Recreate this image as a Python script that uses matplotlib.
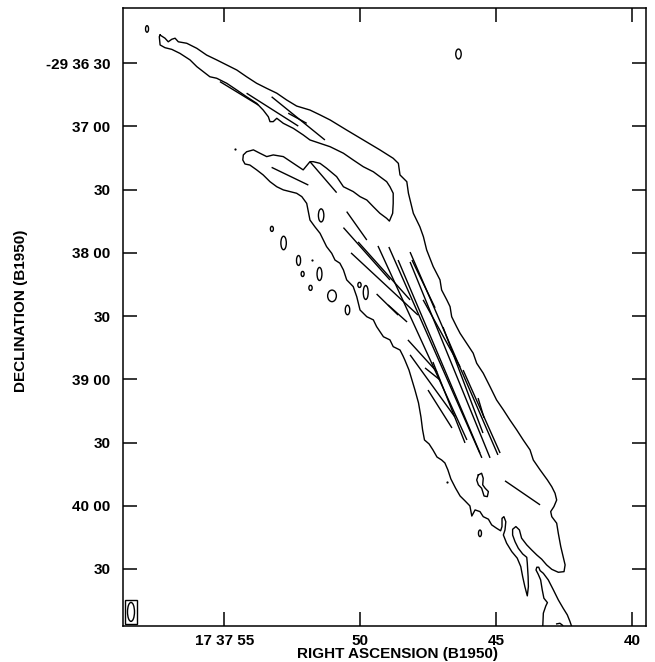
import matplotlib
matplotlib.use('Agg')
import matplotlib.pyplot as plt
from matplotlib.patches import Ellipse, Rectangle

plt.rcParams['font.family'] = ['Liberation Sans', 'DejaVu Sans']

# ---- data: RA in seconds of 17h37m (B1950), Dec in arcsec south of -29d36m00s ----
main_ra = [57.36, 57.18, 57.06, 56.93, 56.81, 56.69, 56.38, 56.01, 55.65, 55.28, 54.91, 54.54, 54.18,
           53.81, 53.44, 53.07, 52.71, 52.34, 51.85, 51.48, 51.11, 50.50, 49.89, 49.28, 48.79, 48.60,
           48.54, 48.29, 48.23, 48.05, 47.81, 47.68, 47.56, 47.32, 47.07, 47.01, 46.82, 46.70, 46.64,
           46.46, 46.33, 46.09, 45.85, 45.72, 45.48, 45.23, 44.99, 44.74, 44.50, 44.25, 44.01, 43.76,
           43.64, 43.39, 43.12, 42.96, 42.84, 42.78, 42.88, 43.00, 42.96, 42.78, 42.72, 42.63, 42.54,
           42.47, 42.51,
           42.72, 42.96, 43.15, 43.33, 43.51, 43.70, 43.88, 44.07, 44.15, 44.28, 44.40, 44.40, 44.31,
           44.19, 44.03, 43.88, 43.86, 43.83, 43.82, 43.86, 43.95, 44.03, 44.10, 44.23, 44.43, 44.62,
           44.74, 44.68, 44.65, 44.72, 44.79, 44.79, 44.84, 44.99, 45.17, 45.29, 45.48, 45.60, 45.78,
           45.90, 45.97, 46.15, 46.33, 46.50, 46.67, 46.78, 46.89, 47.01, 47.18, 47.33, 47.47, 47.64,
           47.71, 47.77, 47.86, 47.99, 48.10, 48.21, 48.36, 48.43, 48.54, 48.79, 48.91, 49.15, 49.40,
           49.52, 49.76, 50.01, 50.13, 50.26, 50.50, 50.62, 50.75, 50.93, 51.05, 51.24, 51.36, 51.48,
           51.67, 51.85, 51.97, 52.15, 52.34, 52.58, 52.83, 53.07, 53.32, 53.57, 53.81, 54.06, 54.24,
           54.32, 54.30, 54.18, 53.93, 53.69, 53.44, 53.20, 52.83, 52.46, 52.10, 51.85, 51.73, 51.48,
           51.24, 50.87, 50.62, 50.26, 50.01, 49.76, 49.52, 49.28, 49.03, 48.93, 48.81, 48.79, 48.79,
           48.91, 49.03, 49.28, 49.52, 49.89, 50.26, 50.62, 51.11, 51.48, 51.85, 52.10, 52.46, 52.83,
           53.07, 53.20, 53.32, 53.38, 53.57, 53.81, 54.18, 54.54, 54.91, 55.28, 55.53, 55.77, 56.01,
           56.26, 56.63, 56.93, 57.18, 57.36, 57.39, 57.36]
main_dec = [16.6, 18.1, 19.8, 18.6, 18.1, 19.8, 20.5, 22.9, 26.1, 28.4, 30.8, 33.2, 36.4,
            39.5, 41.9, 44.2, 47.4, 50.3, 52.2, 54.5, 56.9, 61.7, 66.4, 71.1, 75.1, 77.5,
            83.0, 86.2, 91.7, 101.2, 107.6, 112.3, 118.6, 126.5, 132.8, 137.6, 142.3, 145.5, 150.3,
            155.0, 158.2, 162.9, 167.6, 172.4, 177.1, 183.5, 189.8, 194.5, 199.3, 204.0, 208.8, 213.5,
            218.3, 223.0, 227.8, 231.0, 234.1, 237.3, 240.4, 242.8, 245.2, 248.3, 253.1, 259.4, 264.2,
            268.1, 271.3,
            271.6, 270.2, 268.1, 265.4, 263.4, 261.0, 258.6, 255.4, 251.5, 249.9, 251.2, 253.9, 257.1,
            260.2, 262.9, 264.5, 267.3, 273.7, 278.4, 282.8, 278.4, 273.7, 268.9, 264.9, 261.8, 257.8,
            253.9, 251.5, 247.6, 245.2, 246.0, 249.9, 251.9, 250.7, 249.1, 246.4, 245.2, 242.8, 242.0,
            244.9, 240.1, 237.7, 235.4, 231.6, 227.3, 223.0, 219.7, 218.3, 216.9, 213.5, 210.7, 208.8,
            204.0, 197.9, 191.2, 185.1, 180.3, 175.6, 170.9, 168.9, 166.1, 164.5, 161.3, 159.8, 155.0,
            151.8, 150.3, 147.1, 140.8, 136.0, 132.8, 128.1, 124.9, 123.4, 120.2, 117.0, 113.9, 110.7,
            107.6, 104.4, 96.5, 93.3, 91.7, 90.9, 90.1, 88.6, 86.2, 83.0, 80.6, 78.3, 77.8,
            75.9, 73.5, 72.0, 71.1, 72.7, 74.3, 73.5, 74.3, 77.5, 80.6, 76.7, 76.7, 77.5,
            79.8, 83.8, 88.6, 90.9, 93.3, 94.9, 98.1, 101.2, 103.6, 104.9, 101.2, 96.5, 91.7,
            88.6, 86.2, 83.8, 81.5, 79.1, 75.9, 72.7, 69.6, 68.0, 66.4, 64.0, 60.9, 58.5,
            56.1, 57.7, 57.7, 55.4, 52.2, 49.0, 45.9, 42.7, 39.5, 37.1, 36.4, 34.0, 31.6,
            28.4, 25.3, 23.4, 22.6, 21.3, 17.4, 16.6]

tail_ra = [43.29, 43.27, 43.18, 43.12, 43.25, 43.31, 43.37, 43.46, 43.54, 43.51, 43.44, 43.39,
           43.27, 43.09, 42.90, 42.72, 42.54, 42.39, 42.29, 42.24]
tail_dec = [296.9, 291.0, 287.6, 286.0, 283.9, 280.0, 275.2, 272.5, 270.5, 269.2, 269.2, 270.8,
            272.1, 275.2, 280.0, 284.7, 288.7, 291.8, 295.0, 296.9]
edge_ra = [42.78, 42.66, 42.56]
edge_dec = [296.1, 295.8, 296.8]

loop_ra = [45.66, 45.54, 45.48, 45.50, 45.41, 45.29, 45.33, 45.45, 45.50, 45.54, 45.66, 45.72, 45.66]
loop_dec = [225.4, 224.6, 227.0, 230.1, 231.7, 233.3, 235.7, 235.4, 233.3, 231.7, 230.1, 227.8, 225.4]

blob_ra = [57.84, 46.39, 51.44, 53.25, 52.82, 52.27, 52.12, 51.50, 51.83, 51.04, 50.47, 50.03, 49.80, 45.60]
blob_dec = [13.7, 25.6, 102.2, 108.6, 115.3, 123.6, 130.0, 130.0, 136.6, 140.4, 147.1, 135.2, 138.8, 253.1]
blob_w = [0.11, 0.20, 0.20, 0.11, 0.20, 0.15, 0.11, 0.18, 0.12, 0.32, 0.165, 0.12, 0.18, 0.11]
blob_h = [3.1, 4.7, 6.2, 2.4, 6.4, 4.7, 2.4, 6.2, 2.4, 5.5, 4.5, 2.4, 6.6, 3.1]

dot_ra = [54.62, 51.78, 46.80]
dot_dec = [70.7, 123.6, 228.6]

# polarization vectors (start / end)
vec_ra0 = [55.16, 54.18, 53.26, 52.65, 53.26, 51.85, 44.68, 50.50, 50.62, 50.08, 50.34, 49.35, 48.95,
           48.61, 48.17, 48.10, 47.69, 46.96, 46.22, 45.67, 48.25, 48.17, 47.62, 47.51, 49.40, 48.98, 47.33,
           48.17]
vec_dec0 = [38.7, 44.2, 45.9, 53.7, 79.4, 76.7, 228.2, 100.4, 108.0, 114.8, 120.0, 116.7, 117.2,
            123.4, 119.6, 123.4, 142.3, 155.2, 175.6, 188.9, 161.3, 168.4, 174.6, 185.1, 139.5, 144.7, 171.8,
            124.3]
vec_ra1 = [53.75, 52.28, 51.30, 51.97, 51.91, 50.87, 43.39, 49.76, 48.91, 48.17, 47.88, 46.08, 45.53,
           45.60, 44.94, 47.25, 46.33, 45.49, 44.86, 45.45, 47.18, 46.52, 47.07, 46.63, 48.61, 48.28, 46.15,
           45.23]
vec_dec1 = [49.8, 59.8, 66.4, 58.5, 87.8, 91.4, 239.6, 113.9, 132.85, 142.3, 149.5, 208.8, 217.3,
            215.0, 215.9, 146.1, 174.1, 205.5, 215.0, 198.3, 176.5, 197.9, 180.3, 203.1, 149.5, 152.8, 210.2,
            217.3]

beam_ra, beam_dec, beam_w, beam_h = 58.43, 290.4, 0.257, 9.0
beam_box_ra = [58.64, 58.21]
beam_box_dec = [284.7, 296.3]

ra_ticks = [55, 50, 45, 40]
ra_labels = ["17 37 55", "50", "45", "40"]
dec_ticks = [30, 60, 90, 120, 150, 180, 210, 240, 270]
dec_labels = ["-29 36 30", "37 00", "30", "38 00", "30", "39 00", "30", "40 00", "30"]

# ---- figure ----
W, H = 655, 662
fig = plt.figure(figsize=(W / 100, H / 100), dpi=100)
ax = fig.add_axes([122.7 / W, 1 - 626 / H, (645.7 - 122.7) / W, (626 - 8) / H])
ax.set_xlim(58.735, 39.507)
ax.set_ylim(297.1, 3.76)

lw_c = 1.0
ax.plot(main_ra, main_dec, color='black', lw=lw_c)
ax.plot(tail_ra, tail_dec, color='black', lw=lw_c)
ax.plot(edge_ra, edge_dec, color='black', lw=lw_c)
ax.plot(loop_ra, loop_dec, color='black', lw=lw_c)
for r, d, w, h in zip(blob_ra, blob_dec, blob_w, blob_h):
    ax.add_patch(Ellipse((r, d), w, h, fill=False, edgecolor='black', lw=lw_c))
ax.plot(dot_ra, dot_dec, 'o', color='black', ms=1.6, mew=0)

for r0, d0, r1, d1 in zip(vec_ra0, vec_dec0, vec_ra1, vec_dec1):
    ax.plot([r0, r1], [d0, d1], color='black', lw=1.0, solid_capstyle='butt')

ax.add_patch(Rectangle((beam_box_ra[0], beam_box_dec[0]), beam_box_ra[1] - beam_box_ra[0],
                       beam_box_dec[1] - beam_box_dec[0], fill=False, edgecolor='black', lw=1.0))
ax.add_patch(Ellipse((beam_ra, beam_dec), beam_w, beam_h, fill=False, edgecolor='black', lw=1.0))

for s in ax.spines.values():
    s.set_linewidth(1.1)

ax.set_xticks(ra_ticks)
ax.set_xticklabels(ra_labels, fontsize=11, fontweight='bold')
ax.set_yticks(dec_ticks)
ax.set_yticklabels(dec_labels, fontsize=11, fontweight='bold')
ax.tick_params(axis='both', direction='in', length=10, width=1.1, top=True, right=True)
ax.tick_params(axis='x', pad=6)
ax.tick_params(axis='y', pad=9)
for i, t in enumerate(ax.yaxis.get_major_ticks()):
    c = '#8a8a8a' if i % 2 == 0 else 'black'
    t.tick1line.set_color(c)
    t.tick2line.set_color(c)

fig.text(397.5 / W, 1 - 654 / H, "RIGHT ASCENSION (B1950)", ha='center', va='center',
         fontsize=11, fontweight='bold')
fig.text(21 / W, 1 - 311 / H, "DECLINATION (B1950)", ha='center', va='center',
         rotation=90, fontsize=11, fontweight='bold')

fig.savefig('out.png', dpi=100)
